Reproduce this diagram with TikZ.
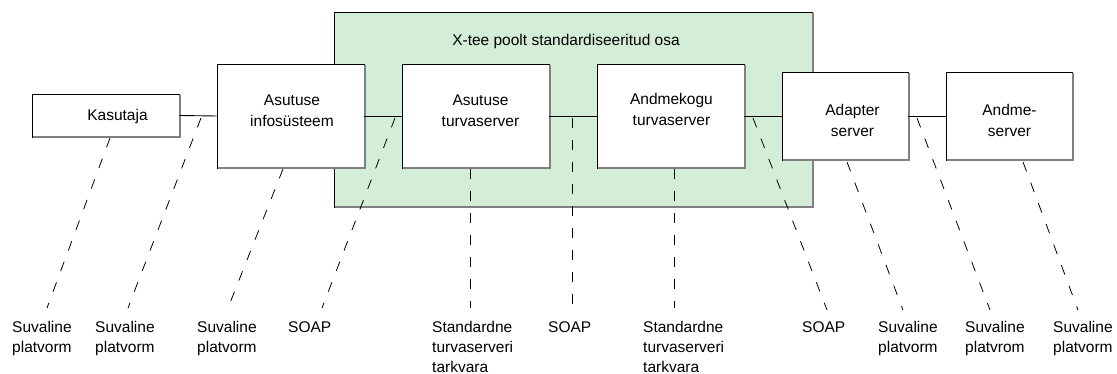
\documentclass[tikz,border=0pt]{standalone}
\usepackage{fontspec}
\setmainfont{Liberation Sans}
\definecolor{xteegreen}{RGB}{212,237,214}
\definecolor{shade}{RGB}{128,128,128}
\tikzset{
 sysbox/.style={draw=black, fill=white, line width=0.9pt, inner sep=0pt},
 greenbox/.style={draw=black, fill=xteegreen, line width=0.9pt, inner sep=0pt},
 shadowline/.style={draw=shade, line width=1.6pt},
 conn/.style={draw=black, line width=0.9pt},
 dashconn/.style={draw=black, line width=0.8pt, dash pattern=on 10pt off 12pt},
 lbl/.style={font=\fontsize{15.5}{20}\selectfont, inner sep=0pt, align=left, anchor=north west},
 boxtxt/.style={font=\fontsize{15.5}{21}\selectfont, inner sep=0pt, align=center, anchor=north},
}
\begin{document}
\begin{tikzpicture}[x=1pt,y=-1pt]
\useasboundingbox (0,0) rectangle (1117,374);
% green standardised area
\node[greenbox, minimum width=478pt, minimum height=195pt] (xtee) at (573,109.5) {};
\draw[shadowline] ([xshift=0.4pt,yshift=-1pt]xtee.north east) -- ([xshift=0.4pt,yshift=0.4pt]xtee.south east) -- ([xshift=1pt,yshift=0.4pt]xtee.south west);
\node[boxtxt] (title) at (566,34) {X-tee poolt standardiseeritud osa};
% boxes
\node[sysbox, minimum width=147pt, minimum height=43pt] (kas) at (105.5,115.5) {};
\node[sysbox, minimum width=147pt, minimum height=104pt] (info) at (290.5,116) {};
\node[sysbox, minimum width=147pt, minimum height=104pt] (ats) at (475.5,116) {};
\node[sysbox, minimum width=147pt, minimum height=104pt] (ams) at (670.5,116) {};
\node[sysbox, minimum width=126pt, minimum height=88pt] (adp) at (845,116) {};
\node[sysbox, minimum width=126pt, minimum height=88pt] (ands) at (1009,116) {};
\foreach \n in {kas,info,ats,ams,adp,ands}{
  \draw[shadowline] ([xshift=0.4pt,yshift=-1pt]\n.north east) -- ([xshift=0.4pt,yshift=0.4pt]\n.south east) -- ([xshift=1pt,yshift=0.4pt]\n.south west);
}
% box texts
\node[boxtxt, anchor=base] (kast) at (117.5,121) {Kasutaja};
\node[boxtxt] (infot) at (292,95) {Asutuse\\infosüsteem};
\node[boxtxt] (atst) at (480.5,95) {Asutuse\\turvaserver};
\node[boxtxt] (amst) at (671.5,93) {Andmekogu\\turvaserver};
\node[boxtxt] (adpt) at (852.5,104) {Adapter\\server};
\node[boxtxt] (andst) at (1009.5,104) {Andme-\\server};
% connectors
\draw[conn] (kas.east) -- (info.west);
\draw[conn] (info.east) -- (ats.west);
\draw[conn] (ats.east) -- (ams.west);
\draw[conn] (ams.east) -- (adp.west);
\draw[conn] (adp.east) -- (ands.west);
% bottom labels
\node[lbl] (b1) at (12,321) {Suvaline\\platvorm};
\node[lbl] (b2) at (95,321) {Suvaline\\platvorm};
\node[lbl] (b3) at (197,321) {Suvaline\\platvorm};
\node[lbl] (b4) at (288,321) {SOAP};
\node[lbl] (b5) at (432,321) {Standardne\\turvaserveri\\tarkvara};
\node[lbl] (b6) at (548,321) {SOAP};
\node[lbl] (b7) at (643,321) {Standardne\\turvaserveri\\tarkvara};
\node[lbl] (b8) at (802,321) {SOAP};
\node[lbl] (b9) at (878,321) {Suvaline\\platvorm};
\node[lbl] (b10) at (965,321) {Suvaline\\platvrom};
\node[lbl] (b11) at (1053,321) {Suvaline\\platvorm};
% dashed leader ends
\coordinate (d1a) at (110,138); \coordinate (d1b) at (47,308);
\coordinate (d2a) at (201,118); \coordinate (d2b) at (128,308);
\coordinate (d3a) at (283,169); \coordinate (d3b) at (228,308);
\coordinate (d4a) at (395,118); \coordinate (d4b) at (322,308);
\coordinate (d5a) at (470,169); \coordinate (d5b) at (470,308);
\coordinate (d6a) at (572,118); \coordinate (d6b) at (572,308);
\coordinate (d7a) at (674,169); \coordinate (d7b) at (674,308);
\coordinate (d8a) at (753,118); \coordinate (d8b) at (827,310);
\coordinate (d9a) at (847,162); \coordinate (d9b) at (903,310);
\coordinate (d10a) at (917,118); \coordinate (d10b) at (990,310);
\coordinate (d11a) at (1023,162); \coordinate (d11b) at (1078,310);
\foreach \i in {1,...,11}{
  \draw[dashconn] (d\i a) -- (d\i b);
}
\end{tikzpicture}
\end{document}
